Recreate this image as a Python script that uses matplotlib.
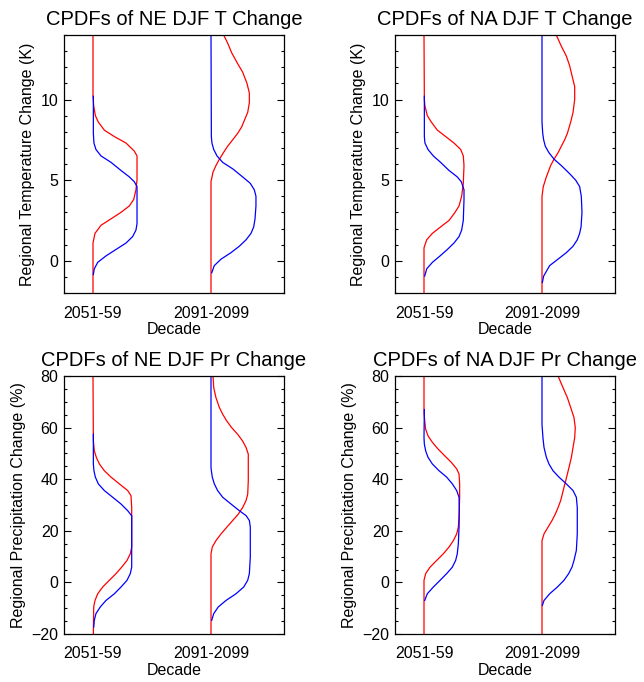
#!/usr/bin/env python3
"""CPDFs of regional DJF temperature and precipitation change, two decades."""

import matplotlib
matplotlib.use("Agg")
import matplotlib.pyplot as plt
from matplotlib.ticker import MultipleLocator

plt.rcParams['font.family'] = ['Liberation Sans', 'DejaVu Sans']

decades = ['2051-59', '2091-2099']
decade_pos = [1, 2]

# Curve offsets are in percent of the spacing between decades.
# ---- NE DJF T ----
ne_t_red_51_y = [-2, 1.1, 1.7, 2.2, 2.6, 3.0, 3.4, 3.8, 4.4, 5.0, 6.5, 6.8, 7.3, 7.7, 8.1, 8.6, 9.0, 9.6, 10.2, 14]
ne_t_red_51_w = [0, 0, 1.7, 6.8, 15.3, 23.7, 30.8, 34.5, 36.4, 37.3, 37.3, 35.0, 28.0, 18.1, 9.6, 4.5, 2.0, 0.6, 0, 0]
ne_t_blue_51_y = [-0.85, -0.5, -0.1, 0.3, 0.7, 1.1, 1.5, 1.9, 2.3, 4.6, 4.9, 5.2, 5.6, 6.1, 6.5, 6.9, 7.3, 7.9, 10.2]
ne_t_blue_51_w = [0.3, 1.1, 4.0, 11.0, 19.5, 28.0, 33.6, 36.4, 37.3, 37.3, 35.0, 30.8, 23.7, 15.3, 6.8, 2.5, 0.8, 0.3, 0.3]
ne_t_blue_91_y = [-0.75, -0.3, 0.1, 0.5, 0.9, 1.3, 1.7, 2.1, 2.6, 3.4, 4.0, 4.4, 4.8, 5.2, 5.7, 6.1, 6.5, 6.9, 7.3, 7.7, 14]
ne_t_blue_91_w = [0.6, 2.8, 8.5, 16.9, 24.0, 29.7, 33.9, 36.2, 37.3, 38.1, 38.1, 36.7, 33.3, 26.8, 18.4, 9.9, 5.1, 2.3, 0.8, 0.3, 0]
ne_t_red_91_y = [-2, 4.9, 5.5, 5.9, 6.3, 6.7, 7.1, 7.5, 7.9, 8.3, 8.8, 9.2, 9.8, 10.4, 11.0, 11.7, 12.3, 12.9, 13.5, 14.0]
ne_t_red_91_w = [0, 0, 1.7, 4.2, 7.1, 10.5, 14.1, 18.4, 22.6, 26.0, 28.8, 31.1, 32.5, 32.5, 30.5, 26.8, 22.0, 17.5, 14.1, 10.7]

# ---- NA DJF T ----
na_t_red_51_y = [-2, 0.8, 1.3, 1.7, 2.1, 2.5, 3.0, 3.4, 4.0, 4.8, 5.9, 6.5, 6.9, 7.3, 7.7, 8.1, 8.6, 9.0, 9.6, 10.0, 14]
na_t_red_51_w = [0, 0, 2.3, 7.1, 14.1, 21.2, 26.3, 29.7, 31.9, 33.3, 33.9, 33.3, 31.1, 25.4, 18.4, 11.3, 6.2, 2.8, 0.8, 0.3, 0]
na_t_blue_51_y = [-0.95, -0.5, -0.1, 0.3, 0.7, 1.1, 1.5, 1.9, 2.5, 3.8, 4.4, 4.9, 5.2, 5.6, 6.1, 6.5, 6.9, 7.3, 7.7, 10.2]
na_t_blue_51_w = [0.6, 2.3, 7.1, 13.6, 19.8, 25.4, 29.7, 31.9, 33.3, 33.9, 33.9, 31.6, 28.2, 21.2, 14.1, 7.9, 3.4, 0.8, 0.3, 0.3]
na_t_blue_91_y = [-1.35, -0.95, -0.3, 0.1, 0.5, 0.9, 1.3, 1.7, 2.1, 3.0, 4.0, 4.6, 5.0, 5.4, 5.9, 6.3, 6.7, 7.1, 7.5, 7.9, 8.6, 14]
na_t_blue_91_w = [0.3, 1.4, 6.5, 13.6, 20.6, 26.3, 29.9, 31.9, 33.1, 33.9, 33.3, 31.9, 28.5, 23.4, 16.4, 10.2, 5.9, 2.8, 1.4, 0.6, 0, 0]
na_t_red_91_y = [-2, 4.0, 4.6, 5.2, 5.9, 6.3, 6.7, 7.1, 7.5, 7.9, 8.6, 9.2, 10.0, 10.8, 11.4, 12.1, 12.7, 13.3, 14.0]
na_t_red_91_w = [0, 0, 1.1, 3.7, 7.3, 10.2, 13.6, 16.4, 19.2, 21.5, 24.3, 26.3, 27.7, 27.7, 25.7, 23.4, 20.6, 16.4, 12.1]

# ---- NE DJF Pr ----
ne_p_red_51_y = [-20, -9.5, -7, -4.4, -1.8, 0.8, 3.4, 5.9, 8.5, 11.1, 13.7, 29, 33.6, 35.6, 38.2, 40.8, 43.3, 45.9, 48.5, 51, 55, 80]
ne_p_red_51_w = [0.3, 0.6, 1.7, 4.0, 8.2, 13.8, 19.5, 24.3, 28.8, 31.6, 32.8, 32.8, 32.2, 29.4, 22.3, 15.3, 9.6, 5.4, 2.8, 1.1, 0.3, 0]
ne_p_blue_51_y = [-17.3, -14.7, -12.1, -9.5, -7, -4.4, -1.8, 0.8, 3.4, 5.9, 25.8, 27.8, 30.4, 33, 35.6, 38.2, 40.8, 43.3, 45.9, 57.5]
ne_p_blue_51_w = [0.6, 1.1, 2.5, 6.2, 11.0, 18.1, 23.7, 28.8, 31.6, 32.8, 32.8, 29.4, 23.7, 16.7, 9.6, 4.5, 2.0, 0.8, 0.3, 0.3]
ne_p_blue_91_y = [-14.7, -12.1, -9.5, -7, -4.4, -1.8, 0.8, 3.4, 9.8, 21.5, 24, 25.9, 27.8, 30.4, 33, 35.6, 38.2, 40.8, 43.3, 44.6, 80]
ne_p_blue_91_w = [0.6, 2.3, 6.2, 12.7, 21.2, 27.7, 31.1, 32.5, 33.3, 33.3, 32.5, 29.7, 24.0, 16.9, 9.9, 5.6, 2.8, 1.1, 0.3, 0, 0]
ne_p_red_91_y = [-20, 11.1, 13.7, 16.2, 18.8, 21.5, 24, 26.5, 29, 31.7, 34.2, 39.4, 49.7, 52.3, 54.8, 57.4, 60, 62.6, 65.2, 67.8, 71.6, 75.5, 80]
ne_p_red_91_w = [0, 0, 1.1, 4.2, 8.5, 13.6, 18.4, 23.2, 26.8, 29.7, 31.1, 31.6, 31.6, 29.7, 26.8, 22.6, 17.5, 13.3, 9.9, 7.1, 4.2, 2.3, 1.7]

# ---- NA DJF Pr ----
na_p_red_51_y = [-20, 0.8, 3.4, 5.9, 8.5, 11.1, 13.7, 16.2, 18.8, 21.4, 25.3, 33, 38.2, 42, 44, 46.5, 49.1, 51.7, 54.3, 56.8, 59.4, 62.6, 65.8, 80]
na_p_red_51_w = [0, 0, 1.4, 5.1, 10.7, 16.4, 21.2, 24.9, 27.7, 29.1, 29.7, 30.2, 30.2, 29.7, 27.7, 23.2, 17.5, 11.9, 7.1, 3.4, 1.4, 0.6, 0, 0]
na_p_blue_51_y = [-7, -4.4, -1.8, 0.8, 3.4, 5.9, 8.5, 11.1, 15, 21.4, 29, 33, 35.6, 38.2, 40.8, 43.3, 45.9, 48.5, 51, 53.6, 56.1, 67]
na_p_blue_51_w = [0.6, 2.8, 7.9, 13.6, 19.2, 24.0, 26.8, 28.2, 29.1, 29.7, 29.9, 29.7, 27.7, 24.0, 19.2, 12.7, 7.1, 3.4, 1.4, 0.3, 0, 0.3]
na_p_blue_91_y = [-8.9, -7, -4.4, -1.8, 0.8, 3.4, 5.9, 8.5, 12.4, 18.8, 29, 33, 35.6, 38.2, 40.8, 43.3, 45.9, 48.5, 52.3, 56.1, 61.2, 80]
na_p_blue_91_w = [0.3, 1.7, 6.5, 13.0, 18.6, 22.6, 25.4, 27.1, 29.1, 29.9, 29.9, 29.1, 26.3, 20.6, 14.4, 9.3, 5.9, 3.7, 1.7, 0.8, 0, 0]
na_p_red_91_y = [-20, 16.2, 18.8, 21.4, 24, 26.5, 29, 31.7, 34.2, 36.8, 39.4, 42, 44.6, 48.5, 52.3, 56.1, 60, 63.9, 67.8, 71.6, 75.5, 80]
na_p_red_91_w = [0, 0, 1.7, 5.1, 8.5, 11.3, 13.6, 15.8, 17.2, 18.6, 20.1, 21.5, 22.9, 24.9, 26.3, 27.7, 28.2, 27.1, 24.3, 21.5, 17.8, 13.6]

panels = [
    dict(title='CPDFs of NE DJF T Change', ylabel='Regional Temperature Change (K)',
         ylim=(-2, 14), major=5, minor=1,
         curves=[(ne_t_red_51_y, ne_t_red_51_w, 0, 'red'), (ne_t_blue_51_y, ne_t_blue_51_w, 0, 'blue'),
                 (ne_t_red_91_y, ne_t_red_91_w, 1, 'red'), (ne_t_blue_91_y, ne_t_blue_91_w, 1, 'blue')]),
    dict(title='CPDFs of NA DJF T Change', ylabel='Regional Temperature Change (K)',
         ylim=(-2, 14), major=5, minor=1,
         curves=[(na_t_red_51_y, na_t_red_51_w, 0, 'red'), (na_t_blue_51_y, na_t_blue_51_w, 0, 'blue'),
                 (na_t_red_91_y, na_t_red_91_w, 1, 'red'), (na_t_blue_91_y, na_t_blue_91_w, 1, 'blue')]),
    dict(title='CPDFs of NE DJF Pr Change', ylabel='Regional Precipitation Change (%)',
         ylim=(-20, 80), major=20, minor=5,
         curves=[(ne_p_red_51_y, ne_p_red_51_w, 0, 'red'), (ne_p_blue_51_y, ne_p_blue_51_w, 0, 'blue'),
                 (ne_p_red_91_y, ne_p_red_91_w, 1, 'red'), (ne_p_blue_91_y, ne_p_blue_91_w, 1, 'blue')]),
    dict(title='CPDFs of NA DJF Pr Change', ylabel='Regional Precipitation Change (%)',
         ylim=(-20, 80), major=20, minor=5,
         curves=[(na_p_red_51_y, na_p_red_51_w, 0, 'red'), (na_p_blue_51_y, na_p_blue_51_w, 0, 'blue'),
                 (na_p_red_91_y, na_p_red_91_w, 1, 'red'), (na_p_blue_91_y, na_p_blue_91_w, 1, 'blue')]),
]

fig = plt.figure(figsize=(6.44, 6.82), dpi=100)
W, H = 644, 682
lefts = [64, 395, 64, 395]
tops = [35, 35, 376, 376]
aw, ah = 220, 258

for p, left, top in zip(panels, lefts, tops):
    ax = fig.add_axes([left / W, 1 - (top + ah) / H, aw / W, ah / H])
    for ys, ws, k, col in p['curves']:
        xs = [decade_pos[k] + w / 100.0 for w in ws]
        ax.plot(xs, ys, color=col, lw=0.9, solid_joinstyle='round')
    ax.set_xlim(1 - 29 / 118, 1 + 191 / 118)
    ax.set_ylim(*p['ylim'])
    ax.set_xticks(decade_pos)
    ax.set_xticklabels(decades)
    ax.yaxis.set_major_locator(MultipleLocator(p['major']))
    ax.yaxis.set_minor_locator(MultipleLocator(p['minor']))
    ax.tick_params(axis='x', length=0, pad=9, labelsize=11.5)
    ax.tick_params(axis='y', which='both', direction='in', left=True, right=True,
                   labelsize=11.5, pad=4, width=0.8)
    ax.tick_params(axis='y', which='major', length=5)
    ax.tick_params(axis='y', which='minor', length=2.5)
    for s in ax.spines.values():
        s.set_linewidth(0.9)
    ax.set_title(p['title'], fontsize=14.5, pad=7.5)
    ax.set_xlabel('Decade', fontsize=11.5, labelpad=1)
    ax.set_ylabel(p['ylabel'], fontsize=11.5, labelpad=4)

fig.savefig('out.png', dpi=100, facecolor='white')
